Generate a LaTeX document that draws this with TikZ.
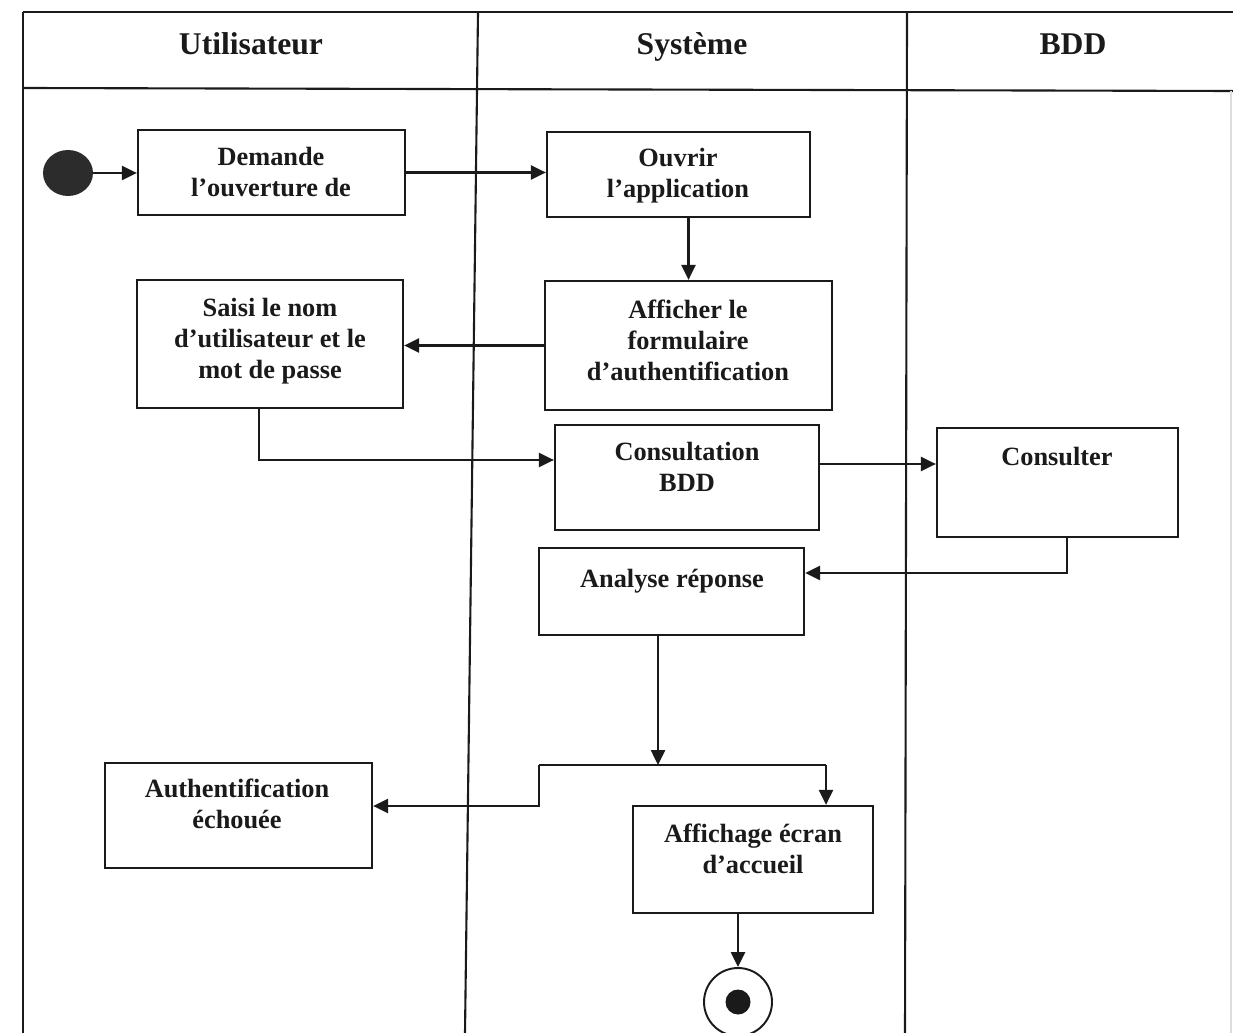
\documentclass[tikz,border=0pt]{standalone}
\usepackage{fontspec}
\setmainfont{Liberation Serif}
\usetikzlibrary{arrows.meta,fit,calc,shapes.geometric}
\definecolor{ink}{HTML}{1A1A1A}
\begin{document}
\begin{tikzpicture}[x=0.02cm,y=-0.02cm,
  ln/.style={draw=ink, line width=1.2pt},
  box/.style={draw=ink, line width=1.3pt, inner sep=0pt, rectangle},
  txt/.style={font=\fontsize{15}{17.6}\selectfont\bfseries, align=center, inner sep=0pt, text=ink},
  hdr/.style={font=\fontsize{18}{21}\selectfont\bfseries, inner sep=0pt, text=ink},
  arr/.style={draw=ink, line width=1.2pt, -{Triangle[length=8.5pt,width=8pt]}},
]
\useasboundingbox (0,0) rectangle (1233,1033);
% swimlane frame
\draw[ln] (23,12) -- (1233,12);
\draw[ln] (23,88) -- (1233,91);
\draw[ln] (23,12) -- (23,1033);
\draw[ln] (478,12) -- (465,1033);
\draw[ln] (907,12) -- (905,1033);
\draw[draw=ink!15, line width=0.8pt] (1231,91) -- (1231,1033);
% headers
\node[hdr] (h1) at (251,47) {\strut Utilisateur};
\node[hdr] (h2) at (692,47) {\strut Système};
\node[hdr] (h3) at (1073,47) {\strut BDD};
% start / end
\node[ellipse, fill=ink!92, minimum width=1cm, minimum height=0.92cm, inner sep=0pt] (init) at (68,173) {};
\node[circle, draw=ink, line width=1.1pt, minimum size=1.36cm, inner sep=0pt] (final) at (738,1002) {};
\node[circle, fill=ink, minimum size=0.5cm, inner sep=0pt] (finaldot) at (final.center) {};
% boxes
\node[box, fit={(138,130) (405,215)}] (demande) {};
\node[txt] (demande-t) at (271,175) {\strut Demande\\l’ouverture de\strut};
\node[box, fit={(547,132) (810,217)}] (ouvrir) {};
\node[txt] (ouvrir-t) at (678,176) {\strut Ouvrir\\l’application\strut};
\node[box, fit={(545,281) (832,410)}] (afficher) {};
\node[txt] (afficher-t) at (688,343) {\strut Afficher le\\formulaire\\d’authentification\strut};
\node[box, fit={(137,280) (403,408)}] (saisi) {};
\node[txt] (saisi-t) at (270,341) {\strut Saisi le nom\\d’utilisateur et le\\mot de passe\strut};
\node[box, fit={(555,425) (819,530)}] (consult) {};
\node[txt] (consult-t) at (687,470) {\strut Consultation\\BDD\strut};
\node[box, fit={(937,428) (1178,537)}] (consulter) {};
\node[txt] (consulter-t) at (1057,459) {\strut Consulter};
\node[box, fit={(539,548) (804,635)}] (analyse) {};
\node[txt] (analyse-t) at (672,581) {\strut Analyse réponse};
\node[box, fit={(105,763) (372,868)}] (auth) {};
\node[txt] (auth-t) at (237,807) {\strut Authentification\\échouée\strut};
\node[box, fit={(633,806) (873,913)}] (affichage) {};
\node[txt] (affichage-t) at (753,852) {\strut Affichage écran\\d’accueil\strut};
% helper coordinates
\coordinate (c1) at (259,460);
\coordinate (c2) at (819,464);
\coordinate (c3) at (1067,573);
\coordinate (fork) at (658,765);
\coordinate (fl) at (539,765);
\coordinate (fr) at (826,765);
\coordinate (fl2) at (539,806);
% connectors
\draw[arr] (init) -- (init -| demande.west);
\draw[arr] (demande.east) -- (demande.east -| ouvrir.west);
\draw[arr] (ouvrir.south -| afficher.north) -- (afficher.north);
\draw[arr] (afficher.west) -- (afficher.west -| saisi.east);
\draw[arr] (saisi.south -| c1) -- (c1) -- (c1 -| consult.west);
\draw[arr] (consult.east |- c2) -- (c2 -| consulter.west);
\draw[arr] (consulter.south -| c3) -- (c3) -- (c3 -| analyse.east);
\draw[arr] (analyse.south -| fork) -- (fork);
\draw[ln] (fl) -- (fr);
\draw[arr] (fr) -- (fr |- affichage.north);
\draw[arr] (fl) -- (fl2) -- (fl2 -| auth.east);
\draw[arr] (affichage.south -| final) -- (final.north);
\end{tikzpicture}
\end{document}
